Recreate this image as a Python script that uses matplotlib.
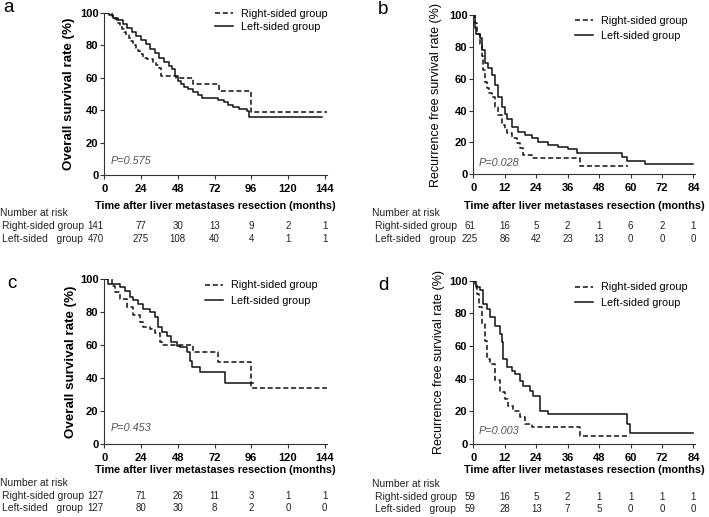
import matplotlib
matplotlib.use("Agg")
import matplotlib.pyplot as plt
import matplotlib.transforms as mtransforms

plt.rcParams['font.family'] = ['Liberation Sans', 'DejaVu Sans']

# ---------------- data ----------------
# Panel a: overall survival
a_right_t = [0, 5, 7, 8.5, 10, 11.5, 13, 14.5, 16, 17.5, 19, 20.5, 22, 23.5, 25, 28, 32, 34, 36, 37, 47, 58, 75, 96, 146]
a_right_v = [100, 98, 96, 94, 92, 90, 88, 86.5, 84.5, 82.5, 80.5, 78.5, 76.5, 74.5, 72.5, 71.5, 70, 68, 66, 61.3, 59.8, 56.2, 52, 38.7, 38.7]
a_left_t = [0, 3, 6, 9, 12, 15, 18, 21, 24, 27, 30, 33, 36, 39, 42, 44, 46, 48, 50, 52, 55, 58, 61, 64, 74, 78, 81, 84, 88, 93, 94.5, 142]
a_left_v = [100, 99, 97, 95.5, 93.5, 91, 88, 85.5, 83.5, 81, 78, 75, 72, 69.5, 67.5, 65.5, 61, 58, 56, 54.5, 53, 51.5, 49.5, 47.5, 46.5, 45, 43.5, 42, 41, 39.2, 35.8, 35.8]

# Panel b: recurrence free survival
b_right_t = [0, 0.5, 1.5, 2.5, 3.2, 3.8, 4.5, 5.1, 6, 7, 8.3, 9.5, 10.8, 12, 12.7, 14.6, 16.5, 17.8, 19.1, 22.3, 40.7, 59]
b_right_v = [100, 95, 88, 82, 74, 65.5, 58, 54, 51, 48.7, 42.5, 37, 31, 28, 25.7, 22.6, 19.5, 16.3, 12, 10, 5, 5]
b_left_t = [0, 0.5, 1, 2.5, 3.2, 4.5, 5.7, 7, 8.3, 9.5, 10.8, 12, 12.7, 14.6, 17.2, 19.7, 22.3, 24.8, 28.6, 32.5, 36.3, 39.5, 56.6, 58.5, 65.5, 84]
b_left_v = [100, 92, 88, 85.4, 78, 69.7, 66.5, 62.3, 56, 48.7, 42.5, 38, 35, 30, 26.8, 24.7, 22.6, 20.5, 18.4, 17.4, 15.9, 13.2, 11, 8.6, 6.5, 6.5]

# Panel c: overall survival (matched)
c_right_t = [0, 4.8, 7, 10.2, 14.6, 18.9, 23.3, 25.4, 29.8, 33, 36.3, 37.4, 58, 74.3, 96, 146]
c_right_v = [100, 96, 92, 88, 83, 78, 74, 71, 70, 67, 62, 60, 55.6, 50, 33.7, 33.7]
c_left_t = [0, 2.6, 10.2, 13.5, 16.7, 18.9, 22.2, 25.4, 29.8, 33, 35.2, 37.4, 40.7, 43.9, 47.2, 49.3, 54.1, 55.9, 57, 62.4, 78.7, 97]
c_left_v = [100, 97, 95, 93, 89, 87, 85, 82, 80, 76.8, 70.7, 67.7, 65.7, 61.6, 59.6, 58.6, 55.6, 50.5, 46.9, 43.4, 37, 37]

# Panel d: recurrence free survival (matched)
d_right_t = [0, 0.5, 1.3, 2.3, 3.2, 4.5, 5.1, 6.4, 8.3, 10.2, 12.1, 13.4, 15.3, 17.8, 19.7, 22.3, 40.7, 59.8]
d_right_v = [100, 98, 92, 84, 73.5, 63, 52, 49, 39, 31.6, 27.6, 23.5, 20.4, 16.3, 12.2, 10.2, 5.1, 5.1]
d_left_t = [0, 1, 2.5, 3.8, 5.1, 6.4, 8.3, 10.2, 11.1, 11.5, 12.7, 14.6, 15.9, 17.8, 19.1, 21.6, 22.9, 25.5, 28.6, 58.5, 59.8, 84]
d_left_v = [100, 96, 94, 85.7, 82.6, 77.5, 72.4, 67.3, 62.2, 52, 46.9, 44.9, 42.9, 38.8, 35.7, 32.7, 29.6, 20.4, 18.4, 12.2, 6.5, 6.5]

os_ticks = [0, 24, 48, 72, 96, 120, 144]
rfs_ticks = [0, 12, 24, 36, 48, 60, 72, 84]
y_ticks = [0, 20, 40, 60, 80, 100]

a_risk_right = [141, 77, 30, 13, 9, 2, 1]
a_risk_left = [470, 275, 108, 40, 4, 1, 1]
b_risk_right = [61, 16, 5, 2, 1, 6, 2, 1]
b_risk_left = [225, 86, 42, 23, 13, 0, 0, 0]
c_risk_right = [127, 71, 26, 11, 3, 1, 1]
c_risk_left = [127, 80, 30, 8, 2, 0, 0]
d_risk_right = [59, 16, 5, 2, 1, 1, 1, 1]
d_risk_left = [59, 28, 13, 7, 5, 0, 0, 0]

labels = ['Right-sided group', 'Left-sided group']
row_labels = ['Right-sided group', 'Left-sided   group']
p_values = ['P=0.575', 'P=0.028', 'P=0.453', 'P=0.003']
panel_letters = ['a', 'b', 'c', 'd']
xlabel = 'Time after liver metastases resection (months)'
ylabel_os = 'Overall survival rate (%)'
ylabel_rfs = 'Recurrence free survival rate (%)'

# ---------------- figure ----------------
W, H = 709, 517
fig = plt.figure(figsize=(W / 100, H / 100), dpi=100)

def fx(px):
    return px / W

def fy(py):
    return 1 - py / H

line_col = '#111111'
dash = (0, (3.3, 1.8))

panels = [
    dict(rect=(104.3, 13, 327, 175), xmax=145.5, ticks=os_ticks,
         right=(a_right_t, a_right_v), left=(a_left_t, a_left_v),
         risk=(a_risk_right, a_risk_left), ylabel=ylabel_os, ybold=True,
         ylab_x=75, leg=(215, 9), lsp=0.3, p=(111, 161.5), letter=(9, 8),
         xlab_top=201, rows=(213, 226, 238.5), lab_x=(0, 2.5), first_shift=-8.5),
    dict(rect=(473.3, 15, 695, 174.3), xmax=84.6, ticks=rfs_ticks,
         right=(b_right_t, b_right_v), left=(b_left_t, b_left_v),
         risk=(b_risk_right, b_risk_left), ylabel=ylabel_rfs, ybold=False,
         ylab_x=442, leg=(575, 15.5), lsp=0.5, p=(479, 162.5), letter=(383, 10),
         xlab_top=201, rows=(213, 226, 238.5), lab_x=(371.7, 375), first_shift=-3.3),
    dict(rect=(104.3, 279, 327, 444), xmax=145.5, ticks=os_ticks,
         right=(c_right_t, c_right_v), left=(c_left_t, c_left_v),
         risk=(c_risk_right, c_risk_left), ylabel=ylabel_os, ybold=True,
         ylab_x=77, leg=(205, 280.5), lsp=0.5, p=(111, 428), letter=(12, 283),
         xlab_top=465, rows=(483.3, 496, 508.3), lab_x=(0, 2.5), first_shift=-8.5),
    dict(rect=(473.3, 280.7, 695, 444), xmax=84.6, ticks=rfs_ticks,
         right=(d_right_t, d_right_v), left=(d_left_t, d_left_v),
         risk=(d_risk_right, d_risk_left), ylabel=ylabel_rfs, ybold=False,
         ylab_x=445, leg=(575, 282.5), lsp=0.5, p=(479, 431), letter=(383, 285),
         xlab_top=465, rows=(484, 496.7, 508.5), lab_x=(371.7, 375), first_shift=-3.3),
]

fs_tick = 8
fs_small = 7.8
fs_table = 7.5
fs_num = 7.0

for i, P in enumerate(panels):
    x0, y0, x1, y1 = P['rect']
    ax = fig.add_axes([fx(x0), fy(y1), fx(x1 - x0), (y1 - y0) / H])
    rt, rv = P['right']
    lt, lv = P['left']
    ax.step(rt, rv, where='post', color=line_col, lw=1.1, linestyle=dash, label=labels[0])
    ax.step(lt, lv, where='post', color=line_col, lw=1.1, label=labels[1])
    ax.set_xlim(0, P['xmax'])
    ax.set_ylim(0, 100)
    ax.set_xticks(P['ticks'])
    ax.set_yticks(y_ticks)
    for s in ['top', 'right']:
        ax.spines[s].set_visible(False)
    for s in ['left', 'bottom']:
        ax.spines[s].set_linewidth(0.8)
        ax.spines[s].set_color('#333333')
    ax.tick_params(axis='both', direction='out', length=3.2, width=0.8, color='#333333',
                   labelsize=fs_tick)
    ax.tick_params(axis='y', pad=1)
    ax.tick_params(axis='x', pad=3)
    for lab in ax.get_xticklabels() + ax.get_yticklabels():
        lab.set_fontweight('bold')

    # y label
    if P['ybold']:
        ax.set_ylabel(P['ylabel'], fontsize=9.6, fontweight='bold')
    else:
        ax.set_ylabel(P['ylabel'], fontsize=9.0, fontweight='normal')
    ax.yaxis.set_label_coords((P['ylab_x'] - x0) / (x1 - x0), 0.5)

    # x label
    ax.set_xlabel(xlabel, fontsize=fs_small, fontweight='bold')
    ax.xaxis.set_label_coords(0.5, -(P['xlab_top'] - y1) / (y1 - y0))

    # legend
    lx, ly = P['leg']
    ax.legend(loc='upper left', bbox_to_anchor=((lx - x0) / (x1 - x0), (y1 - ly) / (y1 - y0)),
              frameon=False, fontsize=fs_small, handlelength=1.7, handletextpad=0.7,
              borderpad=0, borderaxespad=0, labelspacing=P['lsp'])

    # p value
    px, py = P['p']
    ax.text((px - x0) / (x1 - x0), (y1 - py) / (y1 - y0), p_values[i], transform=ax.transAxes,
            fontsize=fs_small, style='italic', color='#555555', ha='left', va='center')

    # panel letter
    lx2, ly2 = P['letter']
    fig.text(fx(lx2), fy(ly2), panel_letters[i], fontsize=13.5, ha='center', va='center')

    # number at risk table
    r0, r1, r2 = P['rows']
    lab0, lab1 = P['lab_x']
    fig.text(fx(lab0), fy(r0), 'Number at risk', fontsize=fs_table, color='#222222',
             ha='left', va='center')
    fig.text(fx(lab1), fy(r1), row_labels[0], fontsize=fs_table, color='#222222',
             ha='left', va='center')
    fig.text(fx(lab1), fy(r2), row_labels[1], fontsize=fs_table, color='#222222',
             ha='left', va='center')
    trans = mtransforms.blended_transform_factory(ax.transData, fig.transFigure)
    for row_y, vals in zip((r1, r2), P['risk']):
        for j, (t, n) in enumerate(zip(P['ticks'], vals)):
            tr = trans
            if j == 0:
                tr = trans + mtransforms.ScaledTranslation(P['first_shift'] / 100, 0, fig.dpi_scale_trans)
            fig.text(t, fy(row_y), str(n), transform=tr, fontsize=fs_num, color='#222222',
                     ha='center', va='center')

fig.savefig('out.png', dpi=100)
